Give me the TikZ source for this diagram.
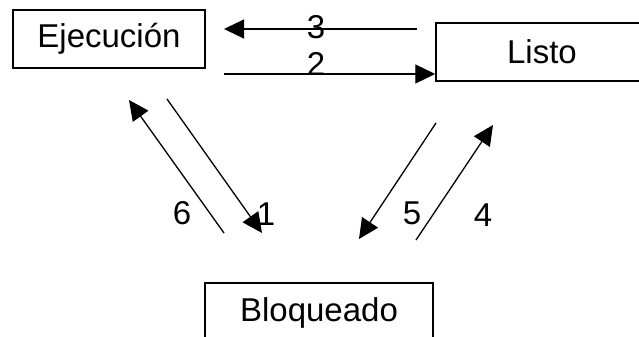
\documentclass[tikz,border=0pt]{standalone}
\usepackage{fontspec}
\setmainfont{Liberation Sans}
\usetikzlibrary{arrows.meta}
\begin{document}
\begin{tikzpicture}[x=0.5pt,y=-0.5pt,
  every node/.style={font=\fontsize{16.5pt}{19pt}\selectfont, inner sep=0pt},
  statebox/.style={draw, line width=0.75pt, minimum height=29pt},
  conn/.style={line width=0.65pt, -{Triangle[length=10pt,width=9.5pt]}},
  lbl/.style={}]
\useasboundingbox (0,0) rectangle (639,337);
\node[statebox, minimum width=96pt] (ej) at (109,39) {Ejecución};
\node[statebox, minimum width=106pt] (li) at (542,52) {Listo};
\node[statebox, minimum width=114pt, minimum height=30pt] (bl) at (319,313) {Bloqueado};
% endpoints
\coordinate (a3s) at (417,29); \coordinate (a3e) at (224,29);
\coordinate (a2s) at (224,74);
\coordinate (a6s) at (224,233); \coordinate (a6e) at (129,100);
\coordinate (a1s) at (167,99); \coordinate (a1e) at (262,233);
\coordinate (a5s) at (436,123); \coordinate (a5e) at (359,239);
\coordinate (a4s) at (416,240); \coordinate (a4e) at (493,125);
\draw[conn] (a3s) -- (a3e);
\draw[conn] (a2s) -- (a2s -| li.west);
\draw[conn] (a6s) -- (a6e);
\draw[conn] (a1s) -- (a1e);
\draw[conn] (a5s) -- (a5e);
\draw[conn] (a4s) -- (a4e);
\node[lbl] (l3) at (316,27) {3};
\node[lbl] (l2) at (316,64) {2};
\node[lbl] (l6) at (182,213) {6};
\node[lbl] (l1) at (266,214) {1};
\node[lbl] (l5) at (412,213) {5};
\node[lbl] (l4) at (483,215) {4};
\end{tikzpicture}
\end{document}
